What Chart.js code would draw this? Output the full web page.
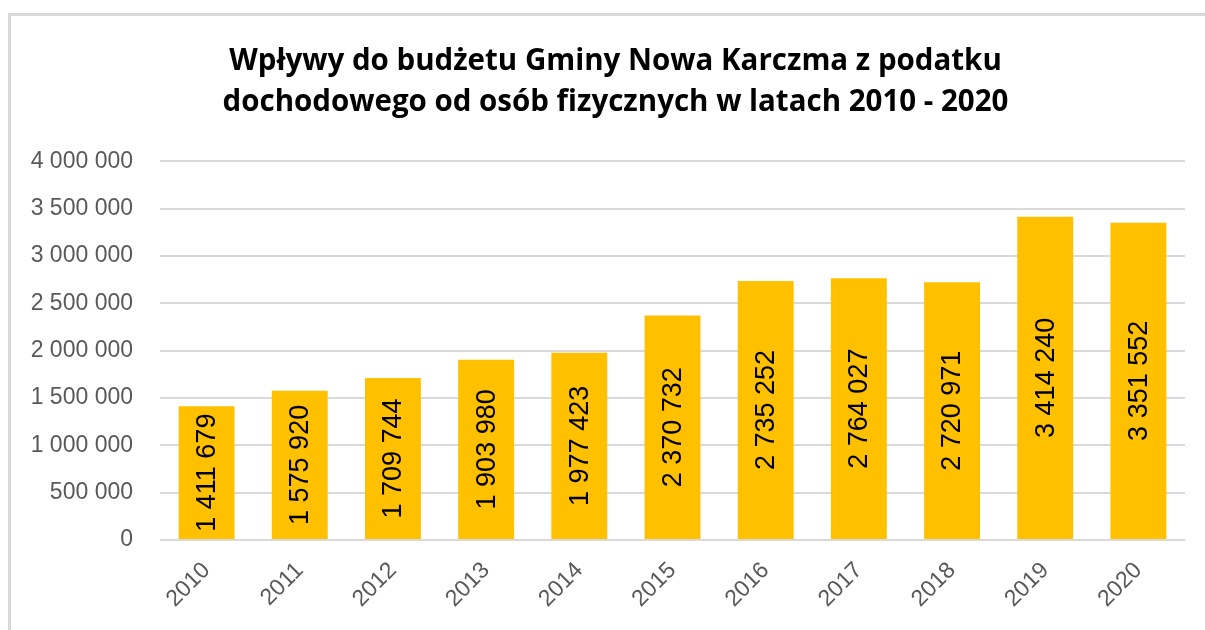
<!DOCTYPE html>
<html>
<head>
<meta charset="utf-8">
<script src="https://cdn.jsdelivr.net/npm/chart.js@4"></script>
<style>
  html, body { margin: 0; padding: 0; background: #fff; overflow: hidden; }
  #frame { position: absolute; left: 8px; top: 13px; width: 1300px; height: 700px; border: 3px solid #d9d9d9; box-sizing: border-box; }
  #wrap { position: absolute; left: 0; top: 0; width: 1205px; height: 630px; }
</style>
</head>
<body>
<div id="frame"></div>
<div id="wrap"><canvas id="myChart"></canvas></div>
<script>
  //data
  const years = ['2010', '2011', '2012', '2013', '2014', '2015', '2016', '2017', '2018', '2019', '2020'];
  const revenue = [1411679, 1575920, 1709744, 1903980, 1977423, 2370732, 2735252, 2764027, 2720971, 3414240, 3351552];
  const titleLines = ['Wpływy do budżetu Gminy Nowa Karczma z podatku', 'dochodowego od osób fizycznych w latach 2010 - 2020'];

  //1 411 679 style numbers
  function fmt(v) {
    return String(v).replace(/\B(?=(\d{3})+(?!\d))/g, ' ');
  }

  //labels in the middle of each bar, turned upright
  const barLabels = {
    id: 'barLabels',
    afterLayout(chart) {
      //title sits a bit right of the canvas middle in the original
      if (chart.titleBlock) chart.titleBlock.left = 46;
    },
    afterDatasetsDraw(chart) {
      const ctx = chart.ctx;
      const meta = chart.getDatasetMeta(0);
      ctx.save();
      ctx.fillStyle = '#000';
      ctx.font = '27px "Liberation Sans", Arial, sans-serif';
      ctx.textAlign = 'center';
      ctx.textBaseline = 'middle';
      meta.data.forEach(function(bar, i) {
        const cy = (bar.y + bar.base) / 2;
        ctx.save();
        ctx.translate(bar.x + 1, cy);
        ctx.rotate(-Math.PI / 2);
        ctx.fillText(fmt(revenue[i]), 0, 0);
        ctx.restore();
      });
      ctx.restore();
    }
  };

  const data = {
    labels: years,
    datasets: [{
      data: revenue,
      backgroundColor: '#FFC000',
      borderWidth: 0,
      barPercentage: 0.6,
      categoryPercentage: 1.0
    }]
  };

  const config = {
    type: 'bar',
    data: data,
    plugins: [barLabels],
    options: {
      responsive: false,
      animation: false,
      layout: { padding: { left: 0, right: 20, top: 42, bottom: 0 } },
      plugins: {
        legend: { display: false },
        tooltip: { enabled: false },
        title: {
          display: true,
          text: titleLines,
          color: '#000',
          font: { family: '"Open Sans", sans-serif', size: 29.5, weight: 'bold', lineHeight: 1.36 },
          padding: { top: 0, bottom: 39 }
        }
      },
      scales: {
        x: {
          grid: { display: false },
          border: { display: false },
          ticks: {
            color: '#595959',
            font: { family: '"Liberation Sans", Arial, sans-serif', size: 23 },
            minRotation: 45,
            maxRotation: 45,
            padding: 9
          },
          afterFit: function(s) {
            s.paddingLeft = 0;
            s.paddingRight = 0;
            s.height = 90;
          }
        },
        y: {
          min: 0,
          max: 4000000,
          border: { display: false },
          grid: { color: '#d9d9d9', lineWidth: 2, drawTicks: false },
          ticks: {
            stepSize: 500000,
            color: '#595959',
            padding: 27,
            font: { family: '"Liberation Sans", Arial, sans-serif', size: 23 },
            callback: function(v) { return fmt(v); }
          },
          afterFit: function(s) {
            s.width = 160;
          }
        }
      }
    }
  };

  const canvas = document.getElementById('myChart');
  canvas.width = 1205;
  canvas.height = 630;
  const myChart = new Chart(canvas, config);
</script>
</body>
</html>
